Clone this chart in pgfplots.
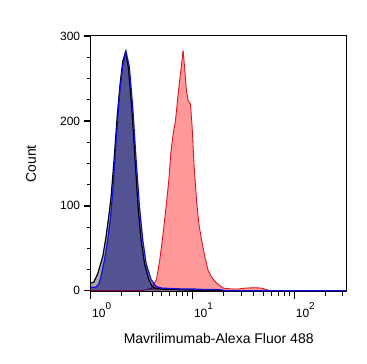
\documentclass[border=0pt]{standalone}
\usepackage{pgfplots}
\pgfplotsset{compat=1.18}
\usepackage{pgfplotstable}
\usepackage{fontspec}
\setmainfont{Liberation Sans}
\definecolor{navyfill}{RGB}{0,0,128}
\definecolor{bline}{RGB}{15,15,215}
\definecolor{rline}{RGB}{225,20,30}

\pgfplotstableread{
lx c
0.000 9
0.030 10
0.069 20
0.118 40
0.150 63
0.180 90
0.200 110
0.230 155
0.260 205
0.290 245
0.315 270
0.341 281
0.370 263
0.403 216
0.436 154
0.465 99
0.495 60
0.528 32
0.570 13
0.600 6
0.626 3
0.700 2
0.800 1.5
0.900 1
1.000 0.5
1.100 0
2.514 0
}\blk

\pgfplotstableread{
lx c
0.000 4
0.050 4
0.080 8
0.100 16
0.135 36
0.167 60
0.195 87
0.216 115
0.249 175
0.282 230
0.315 265
0.347 282
0.380 263
0.413 216
0.446 154
0.479 99
0.511 60
0.544 32
0.593 13
0.642 5
0.700 3
0.800 2.5
0.900 2
1.000 2
1.100 1.5
1.200 1.5
1.280 1
1.320 0
2.514 0
}\blu

\pgfplotstableread{
lx c
0.000 0
0.500 0
0.550 1
0.597 3
0.646 13
0.678 36
0.711 67
0.744 103
0.767 130
0.787 162
0.810 185
0.833 201
0.859 232
0.882 256
0.908 283
0.924 260
0.940 236
0.957 224
0.980 220
0.996 193
1.016 146
1.039 107
1.062 79
1.088 60
1.121 40
1.153 24
1.187 16
1.236 9
1.302 3
1.384 2
1.450 2
1.515 3
1.613 3.5
1.680 3
1.730 1
1.780 0
2.514 0
}\red

\begin{document}
\begin{tikzpicture}
\path[use as bounding box] (-90.7pt,-72.3pt) rectangle (276.3pt,291.7pt);
\begin{axis}[
  width=256pt, height=255.7pt, scale only axis,
  xmin=0, xmax=2.514, ymin=-1.2, ymax=300,
  xtick={0,1,2},
  xticklabels={10\raisebox{8pt}{\fontsize{10}{10}\selectfont 0},10\raisebox{8pt}{\fontsize{10}{10}\selectfont 1},10\raisebox{8pt}{\fontsize{10}{10}\selectfont 2}},
  minor xtick={0.301,0.477,0.602,0.699,0.778,0.845,0.903,0.954,1.301,1.477,1.602,1.699,1.778,1.845,1.903,1.954,2.301,2.477},
  ytick={0,100,200,300},
  minor ytick={25,50,75,125,150,175,225,250,275},
  tick align=outside, tick pos=left,
  major tick length=7pt, minor tick length=4pt,
  major tick style={line width=1.6pt, black},
  minor tick style={line width=0.9pt, black},
  axis line style={line width=1pt},
  /pgf/number format/assume math mode=true,
  ticklabel style={font=\fontsize{12}{12}\selectfont},
  xticklabel style={anchor=north west, xshift=-2pt},
  xlabel={Mavrilimumab-Alexa Fluor 488},
  ylabel={Count},
  label style={font=\fontsize{14}{14}\selectfont},
  xlabel style={at={(axis description cs:0.5,-0.2045)}, anchor=base},
  ylabel style={at={(axis description cs:-0.2137,0.5)}, anchor=base},
]
\addplot[draw=none, fill=red, fill opacity=0.4] table[x=lx,y=c]{\red} \closedcycle;
\addplot[draw=rline, line width=0.9pt] table[x=lx,y=c]{\red};
\addplot[draw=none, fill=black, fill opacity=0.35] table[x=lx,y=c]{\blk} \closedcycle;
\addplot[draw=none, fill=navyfill, fill opacity=0.5] table[x=lx,y=c]{\blu} \closedcycle;
\addplot[draw=black, line width=1.2pt] table[x=lx,y=c]{\blk};
\addplot[draw=bline, line width=1.2pt] table[x=lx,y=c]{\blu};
\end{axis}
\end{tikzpicture}
\end{document}
